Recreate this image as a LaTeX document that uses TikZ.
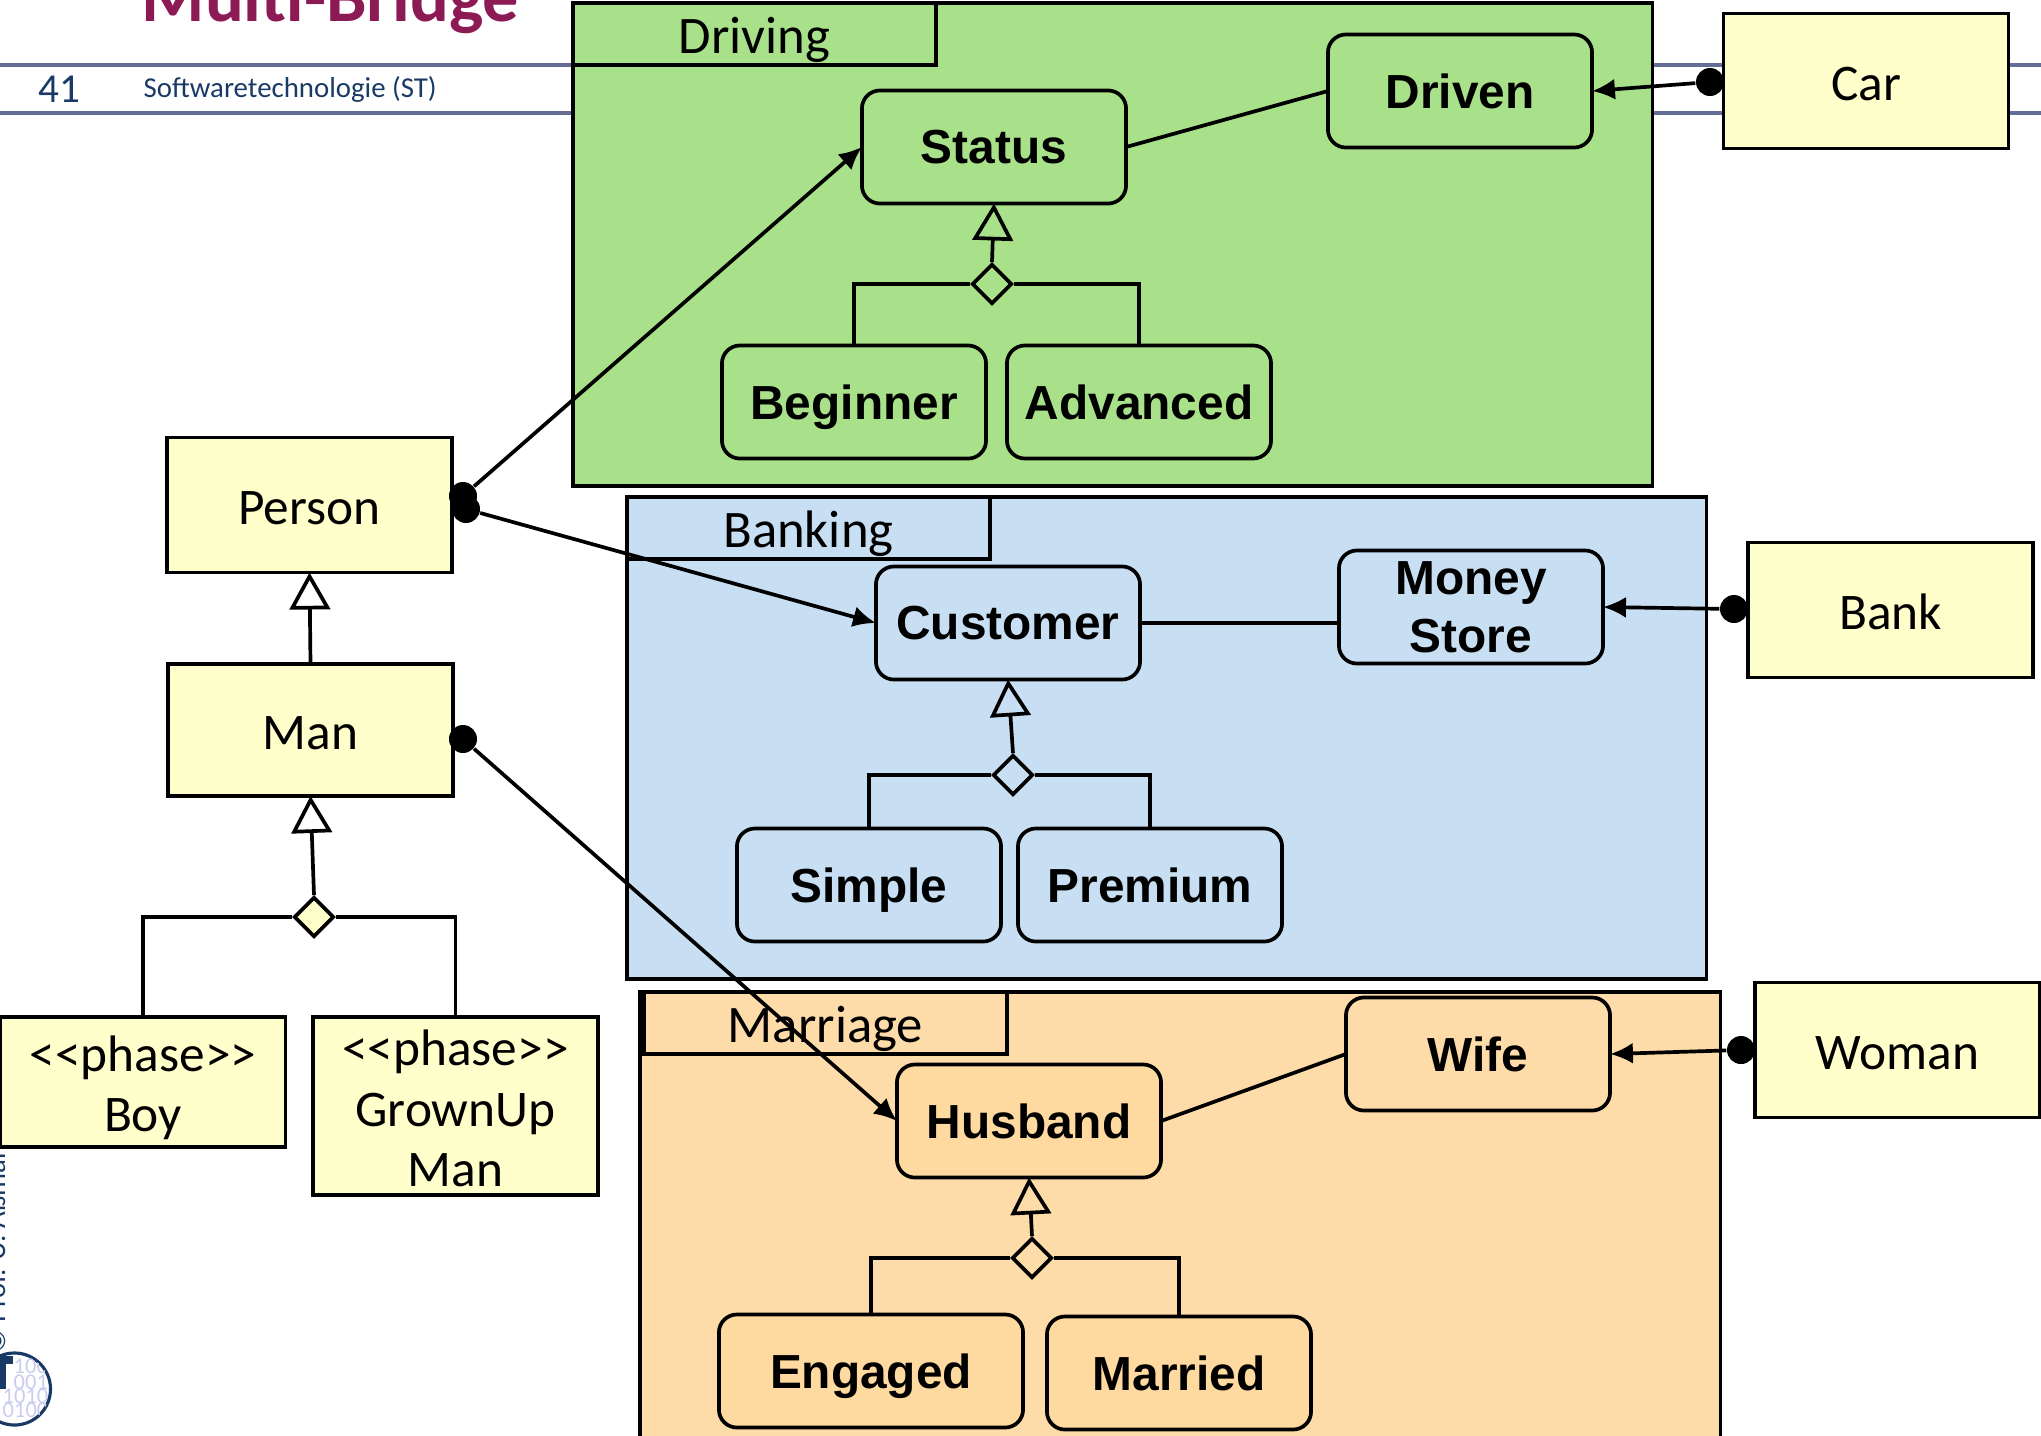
\documentclass[tikz,border=0pt]{standalone}
\usepackage{fontspec}
\setmainfont{Carlito}
\newfontfamily\statefont{Liberation Sans}[Scale=1.0]
\usepackage{tikz}
\usetikzlibrary{arrows.meta,shapes.geometric}
\definecolor{drivinggreen}{HTML}{A9E18A}
\definecolor{bankingblue}{HTML}{C8DFF3}
\definecolor{marriageorange}{HTML}{FEDCA9}
\definecolor{stateorange}{HTML}{FFDAA0}
\definecolor{classyellow}{HTML}{FFFFCC}
\definecolor{headerline}{HTML}{666E96}
\definecolor{headertext}{HTML}{1A3A66}
\definecolor{titlered}{HTML}{8C1A55}
\definecolor{digitblue}{HTML}{CCCCF0}
\tikzset{
    lines/.style={line width=1.05pt,draw=black},
    framebox/.style={lines,anchor=north west,inner sep=0pt},
    tabbox/.style={lines,anchor=north west,inner sep=0pt,minimum width=3.63cm,minimum height=0.62cm,
        text height=11pt,text depth=0pt,font=\fontsize{15}{18}\selectfont},
    classbox/.style={lines,fill=classyellow,inner sep=0pt,outer sep=0pt,minimum width=2.85cm,minimum height=1.35cm,
        align=center,font=\fontsize{14.6}{17.2}\selectfont},
    singleline/.style={text height=11.3pt,text depth=0pt},
    statebox/.style={lines,rounded corners=0.18cm,inner sep=0pt,outer sep=0pt,minimum width=2.64cm,minimum height=1.13cm,
        align=center,text depth=0pt,font=\statefont\bfseries\fontsize{13.6}{16.3}\selectfont},
    gendiamond/.style={lines,diamond,aspect=1,inner sep=0pt,minimum size=0.4cm},
    dotnode/.style={circle,fill=black,inner sep=0pt,minimum size=0.28cm},
    genarrow/.style={lines,-{Triangle[open,length=10.5pt,width=11.5pt]}},
    usearrow/.style={lines,-{Latex[length=6.5pt,width=6pt]}},
    digit/.style={text=digitblue,inner sep=0pt,anchor=base west,font=\fontsize{6.4}{7}\selectfont}
}
\begin{document}
\begin{tikzpicture}[x=0.01cm,y=-0.01cm]
        \useasboundingbox (0,0) rectangle (2041,1435);

        % draw the slide header
        \node[text=titlered,anchor=base west,inner sep=0pt,font=\bfseries\fontsize{20.6}{25}\selectfont] (title) at (141,21) {Multi-Bridge};
        \coordinate (headerAl) at (0,65);
        \coordinate (headerAr) at (2041,65);
        \coordinate (headerBl) at (0,113);
        \coordinate (headerBr) at (2041,113);
        \draw[headerline,line width=1pt] (headerAl) -- (headerAr);
        \draw[headerline,line width=1pt] (headerBl) -- (headerBr);
        \node[text=headertext,anchor=base west,inner sep=0pt,font=\fontsize{11.7}{14}\selectfont] (slidenum) at (38,102) {41};
        \node[text=headertext,anchor=base west,inner sep=0pt,font=\fontsize{8.2}{10}\selectfont] (coursename) at (143,97) {Softwaretechnologie (ST)};

        % draw the copyright and the logo
        \node[text=headertext,anchor=base west,rotate=90,inner sep=0pt,font=\fontsize{8.2}{10}\selectfont] (copyright) at (5,1354) {© Prof. U. Aßmann};
        \node[circle,draw=headertext,fill=white,line width=0.9pt,inner sep=0pt,minimum size=0.72cm] (logo) at (14.5,1389) {};
        \begin{scope}
            \clip (14.5,1389) circle (0.35cm);
            \foreach \i/\x/\y/\t in {1/13/1373/100,2/13/1389/001,3/2/1403/1010,4/2/1417/0100}
                \node[digit] (digit\i) at (\x,\y) {\t};
        \end{scope}
        \fill[headertext] (0,1356) rectangle (13,1364);
        \fill[headertext] (0,1356) rectangle (6,1389);

        % draw the three frames
        \node[framebox,fill=drivinggreen,minimum width=10.79cm,minimum height=4.83cm] (drivingframe) at (571,1) {};
        \node[framebox,fill=bankingblue,minimum width=10.79cm,minimum height=4.82cm] (bankingframe) at (625,495) {};
        \node[framebox,fill=marriageorange,minimum width=10.8cm,minimum height=5.2cm] (marriageframe) at (638,990) {};

        \foreach \n/\x/\y/\t in {drivingtab/571/1/Driving,bankingtab/625/495/Banking,marriagetab/642/990/Marriage}
                \node[tabbox] (\n) at (\x,\y) {\t};

        % draw the states
        \foreach \n/\x/\y/\c/\t in {
            Status/994/147/drivinggreen/Status,
            Driven/1460/91/drivinggreen/Driven,
            Beginner/854/402/drivinggreen/Beginner,
            Advanced/1139/402/drivinggreen/Advanced,
            Customer/1008/623/bankingblue/Customer,
            MoneyStore/1471/607/bankingblue/Money\\Store,
            Simple/869/885/bankingblue/Simple,
            Premium/1150/885/bankingblue/Premium,
            Husband/1029/1121/stateorange/Husband,
            Wife/1478/1054/marriageorange/Wife}
                \node[statebox,fill=\c] (\n) at (\x,\y) {\t};
        \node[statebox,fill=stateorange,minimum width=3.04cm] (Engaged) at (871,1371) {Engaged};
        \node[statebox,fill=stateorange] (Married) at (1179,1373) {Married};

        % draw the classes
        \foreach \n/\x/\y/\t in {
            Person/309.5/505/Person,
            Car/1866/81/Car,
            Bank/1890.5/610/Bank,
            Woman/1897.5/1050/Woman}
                \node[classbox,singleline] (\n) at (\x,\y) {\t};
        \node[classbox,singleline,minimum height=1.32cm] (Man) at (310.5,730) {Man};
        \node[classbox,minimum height=1.3cm] (Boy) at (143,1082) {\rule{0pt}{13.4pt}{<}{<}phase{>}{>}\\Boy};
        \node[classbox,minimum height=1.78cm] (GrownUp) at (455.5,1106) {\rule{0pt}{11.7pt}{<}{<}phase{>}{>}\\GrownUp\\Man};

        % draw the phase diamonds
        \foreach \n/\x/\y/\c in {
            drivingdia/992/284/drivinggreen,
            bankingdia/1013/775/bankingblue,
            marriagedia/1032/1258/marriageorange,
            mandia/314/917/classyellow}
                \node[gendiamond,fill=\c] (\n) at (\x,\y) {};

        % lines from the diamonds to the states and classes
        \foreach \d/\p/\l/\r in {
            drivingdia/Status/Beginner/Advanced,
            bankingdia/Customer/Simple/Premium,
            marriagedia/Husband/Engaged/Married,
            mandia/Man/Boy/GrownUp} {
                \draw[genarrow] (\d.north) -- (\p.south);
                \draw[lines] (\d.west) -| (\l.north);
                \draw[lines] (\d.east) -| (\r.north);
        }
        \draw[genarrow] (Man.north) -- (Person.south);

        % lines between the states
        \draw[lines] (Status.east) -- (Driven.west);
        \draw[lines] (Customer.east) -- (Customer.east -| MoneyStore.west);
        \draw[lines] (Husband.east) -- (Wife.west);

        % dots at each class with the arrows
        \foreach \n/\x/\y in {
            persondotA/463/496,
            persondotB/466/509,
            mandot/463/739,
            cardot/1710/82,
            bankdot/1734/609,
            womandot/1741/1050}
                \node[dotnode] (\n) at (\x,\y) {};

        \foreach \n/\s in {persondotA/Status,persondotB/Customer,mandot/Husband}
                \draw[usearrow] (\n) -- (\s.west);
        \foreach \n/\s in {cardot/Driven,bankdot/MoneyStore,womandot/Wife}
                \draw[usearrow] (\n) -- (\s.east);

    \end{tikzpicture}
\end{document}
